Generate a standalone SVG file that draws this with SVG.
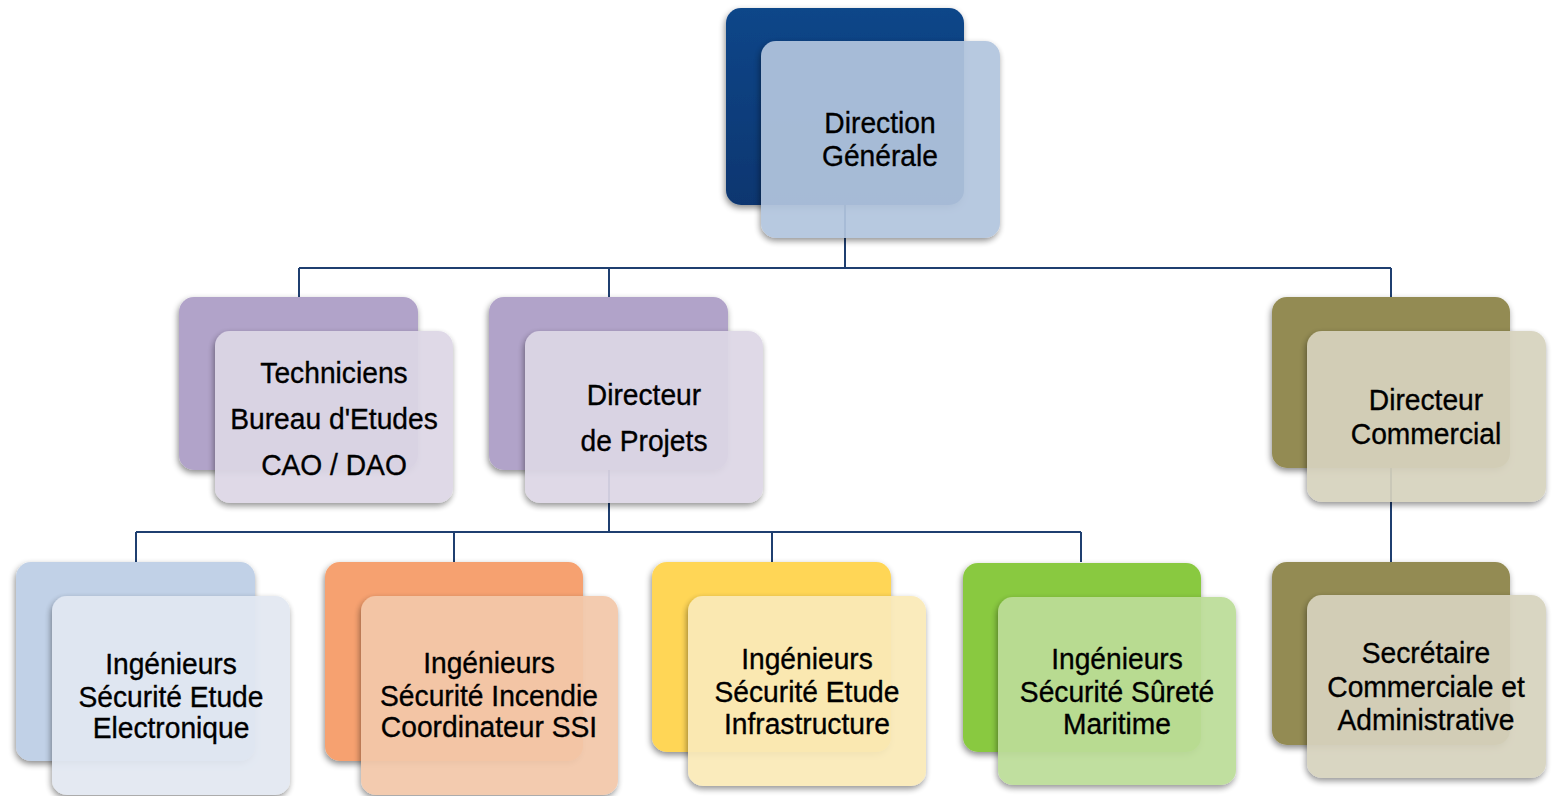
<svg xmlns="http://www.w3.org/2000/svg" width="1552" height="796" viewBox="0 0 1552 796">
<defs>
<filter id="sh" x="-10%" y="-10%" width="125%" height="130%">
<feDropShadow dx="-1" dy="3" stdDeviation="3" flood-color="#000" flood-opacity="0.45"/>
</filter>
<linearGradient id="gBlue" x1="0" y1="0" x2="0" y2="1"><stop offset="0" stop-color="#114689"/><stop offset="1" stop-color="#0b3670"/></linearGradient>
</defs>
<style>
.back{filter:url(#sh)}
.front{filter:url(#sh);opacity:0.93}
.lbl{font-family:"Liberation Sans Narrow","Arial Narrow","Liberation Sans",sans-serif;font-size:30px;fill:#000;stroke:#000;stroke-width:0.35;text-anchor:middle}
.con{fill:none;stroke:#1f3f70;stroke-width:2}
</style>
<rect width="1552" height="796" fill="#fff"/>
<g id="connectors">
<path class="con" d="M845,205 V268 M299,268 H1391 M299,268 V297 M609,268 V297 M1391,268 V297"/>
<path class="con" d="M609,470 V532 M136,532 H1081 M136,532 V562 M454,532 V562 M772,532 V562 M1081,532 V562"/>
<path class="con" d="M1391,468 V562"/>
</g>
<g id="n-direction">
<rect class="back" x="726" y="8" width="238" height="197" rx="15" fill="url(#gBlue)"/>
<rect class="front" x="761" y="41" width="239" height="197" rx="15" fill="#b2c5de"/>
<g transform="translate(880,0) scale(0.94,1)">
<text class="lbl" x="0" y="133">Direction</text>
<text class="lbl" x="0" y="166">Générale</text>
</g>
</g>
<g id="n-techniciens">
<rect class="back" x="179" y="297" width="239" height="173" rx="15" fill="#b1a3c9"/>
<rect class="front" x="215" y="331" width="238" height="172" rx="15" fill="#ddd7e6"/>
<g transform="translate(334,0) scale(0.94,1)">
<text class="lbl" x="0" y="383">Techniciens</text>
<text class="lbl" x="0" y="429">Bureau d'Etudes</text>
<text class="lbl" x="0" y="475">CAO / DAO</text>
</g>
</g>
<g id="n-projets">
<rect class="back" x="489" y="297" width="239" height="173" rx="15" fill="#b1a3c9"/>
<rect class="front" x="525" y="331" width="238" height="172" rx="15" fill="#ddd7e6"/>
<g transform="translate(644,0) scale(0.94,1)">
<text class="lbl" x="0" y="405">Directeur</text>
<text class="lbl" x="0" y="451">de Projets</text>
</g>
</g>
<g id="n-commercial">
<rect class="back" x="1272" y="297" width="238" height="171" rx="15" fill="#938b52"/>
<rect class="front" x="1307" y="331" width="239" height="171" rx="15" fill="#d7d3be"/>
<g transform="translate(1426,0) scale(0.94,1)">
<text class="lbl" x="0" y="410">Directeur</text>
<text class="lbl" x="0" y="444">Commercial</text>
</g>
</g>
<g id="n-secretaire">
<rect class="back" x="1272" y="562" width="238" height="183" rx="15" fill="#938b52"/>
<rect class="front" x="1307" y="595" width="239" height="183" rx="15" fill="#d7d3be"/>
<g transform="translate(1426,0) scale(0.94,1)">
<text class="lbl" x="0" y="663">Secrétaire</text>
<text class="lbl" x="0" y="697">Commerciale et</text>
<text class="lbl" x="0" y="730">Administrative</text>
</g>
</g>
<g id="n-electronique">
<rect class="back" x="16" y="562" width="239" height="199" rx="15" fill="#c1d1e7"/>
<rect class="front" x="52" y="596" width="238" height="199" rx="15" fill="#e2e8f2"/>
<g transform="translate(171,0) scale(0.94,1)">
<text class="lbl" x="0" y="674">Ingénieurs</text>
<text class="lbl" x="0" y="707">Sécurité Etude</text>
<text class="lbl" x="0" y="738">Electronique</text>
</g>
</g>
<g id="n-incendie">
<rect class="back" x="325" y="562" width="258" height="199" rx="15" fill="#f6a16f"/>
<rect class="front" x="361" y="596" width="257" height="199" rx="15" fill="#f3c8aa"/>
<g transform="translate(489,0) scale(0.94,1)">
<text class="lbl" x="0" y="673">Ingénieurs</text>
<text class="lbl" x="0" y="706">Sécurité Incendie</text>
<text class="lbl" x="0" y="737">Coordinateur SSI</text>
</g>
</g>
<g id="n-infrastructure">
<rect class="back" x="652" y="562" width="239" height="190" rx="15" fill="#ffd656"/>
<rect class="front" x="688" y="596" width="238" height="190" rx="15" fill="#faeab8"/>
<g transform="translate(807,0) scale(0.94,1)">
<text class="lbl" x="0" y="669">Ingénieurs</text>
<text class="lbl" x="0" y="702">Sécurité Etude</text>
<text class="lbl" x="0" y="734">Infrastructure</text>
</g>
</g>
<g id="n-maritime">
<rect class="back" x="963" y="563" width="238" height="189" rx="15" fill="#89c941"/>
<rect class="front" x="998" y="597" width="238" height="188" rx="15" fill="#bcdd98"/>
<g transform="translate(1117,0) scale(0.94,1)">
<text class="lbl" x="0" y="669">Ingénieurs</text>
<text class="lbl" x="0" y="702">Sécurité Sûreté</text>
<text class="lbl" x="0" y="734">Maritime</text>
</g>
</g>
</svg>
